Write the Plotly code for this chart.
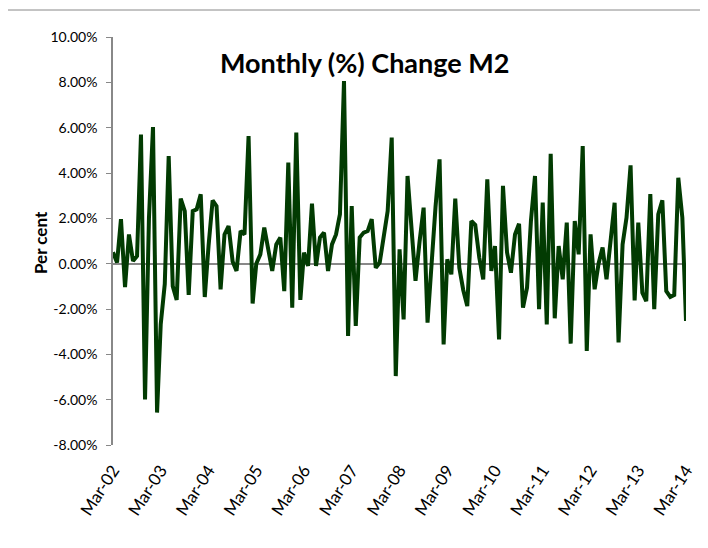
import pandas as pd
import plotly.graph_objects as go

start_month = "2002-03-01"
n_months = 145
m2_change = [
    0.5, 0.05, 1.96, -1.03, 1.29, 0.12, 0.34, 5.7, -5.99, 2.0,
    6.03, -6.57, -2.68, -0.9, 4.75, -0.99, -1.6, 2.87, 2.32, -1.38,
    2.32, 2.4, 3.06, -1.47, 0.8, 2.79, 2.54, -1.13, 1.29, 1.66,
    0.1, -0.32, 1.44, 1.29, 5.63, -1.76, 0.0, 0.41, 1.59, 0.6,
    -0.32, 0.85, 1.15, -1.21, 4.46, -1.94, 5.78, -1.6, 0.49, -0.1,
    2.65, -0.1, 1.15, 1.37, -0.32, 0.85, 1.29, 2.18, 8.06, -3.19,
    2.54, -2.75, 1.15, 1.37, 1.44, 1.96, -0.18, 0.04, 1.15, 2.32,
    5.56, -4.96, 0.63, -2.46, 3.87, 1.2, -0.76, 0.98, 2.47, -2.6,
    0.1, 2.5, 4.6, -3.56, 0.19, -0.47, 2.87, -0.18, -1.16, -1.87,
    1.88, 1.71, 0.26, -0.69, 3.72, -0.32, 0.78, -3.34, 3.43, 0.5,
    -0.4, 1.29, 1.76, -1.94, -1.06, 1.9, 3.87, -2.01, 2.69, -2.68,
    4.85, -2.41, 0.78, -0.69, 1.81, -3.53, 1.88, 0.41, 5.19, -3.85,
    1.29, -1.13, 0.0, 0.71, -0.69, 1.07, 2.69, -3.47, 0.85, 2.03,
    4.34, -1.62, 1.81, -1.28, -1.65, 3.07, -2.01, 2.18, 2.79, -1.21,
    -1.47, -1.38, 3.79, 2.03, -2.53,
]
tick_dates = [f"{y}-03-01" for y in range(2002, 2015)]
tick_labels = [f"Mar-{str(y)[2:]}" for y in range(2002, 2015)]
y_ticks = [-8, -6, -4, -2, 0, 2, 4, 6, 8, 10]
y_tick_labels = [f"{v:.2f}%" for v in y_ticks]

dates = pd.date_range(start_month, periods=n_months, freq="MS")

fig = go.Figure()
fig.add_trace(go.Scatter(
    x=dates, y=m2_change, mode="lines",
    line=dict(color="#023b02", width=4),
    hoverinfo="x+y",
))

# page body has an 8px margin, so the figure is 700x540 placed at (8, 8)
W, H = 700, 540
L, R, T, B = 105, 22, 29, 103
pw, ph = W - L - R, H - T - B

def px_x(x):
    return (x - L) / pw

def px_y(y):
    return (H - B - y) / ph

fig.update_layout(
    width=W, height=H,
    margin=dict(l=L, r=R, t=T, b=B),
    paper_bgcolor="white", plot_bgcolor="white",
    showlegend=False,
    font=dict(family="Lato, Noto Sans, sans-serif", color="#000000", size=14),
    annotations=[
        dict(
            text="<b>Monthly (%) Change M2</b>",
            xref="paper", yref="paper",
            x=px_x(356), y=px_y(54),
            xanchor="center", yanchor="middle", showarrow=False,
            font=dict(family="Lato, sans-serif", size=27, color="#000000"),
        ),
        dict(
            text="<b>Per cent</b>",
            xref="paper", yref="paper",
            x=px_x(32), y=px_y(235),
            xanchor="center", yanchor="middle", showarrow=False,
            textangle=-90,
            font=dict(family="Lato, sans-serif", size=17, color="#000000"),
        ),
    ],
    shapes=[dict(
        type="line", xref="paper", yref="paper",
        x0=px_x(0), x1=px_x(W),
        y0=px_y(2), y1=px_y(2),
        line=dict(color="#888888", width=1),
    )],
)

fig.update_xaxes(
    range=[dates[0], dates[-1]],
    tickmode="array", tickvals=tick_dates, ticktext=tick_labels,
    tickangle=-57, showgrid=False, showline=False, zeroline=False,
    ticks="", tickfont=dict(size=17), ticklabelstandoff=11,
)
fig.update_yaxes(
    range=[-8, 10], tickmode="array", tickvals=y_ticks, ticktext=y_tick_labels,
    showgrid=False, showline=True, linecolor="#888888", linewidth=1.5,
    ticks="outside", ticklen=5, tickcolor="#888888",
    zeroline=True, zerolinecolor="#888888", zerolinewidth=1.5,
    tickfont=dict(size=14), ticklabelstandoff=6,
)

fig.write_html("out.html")
